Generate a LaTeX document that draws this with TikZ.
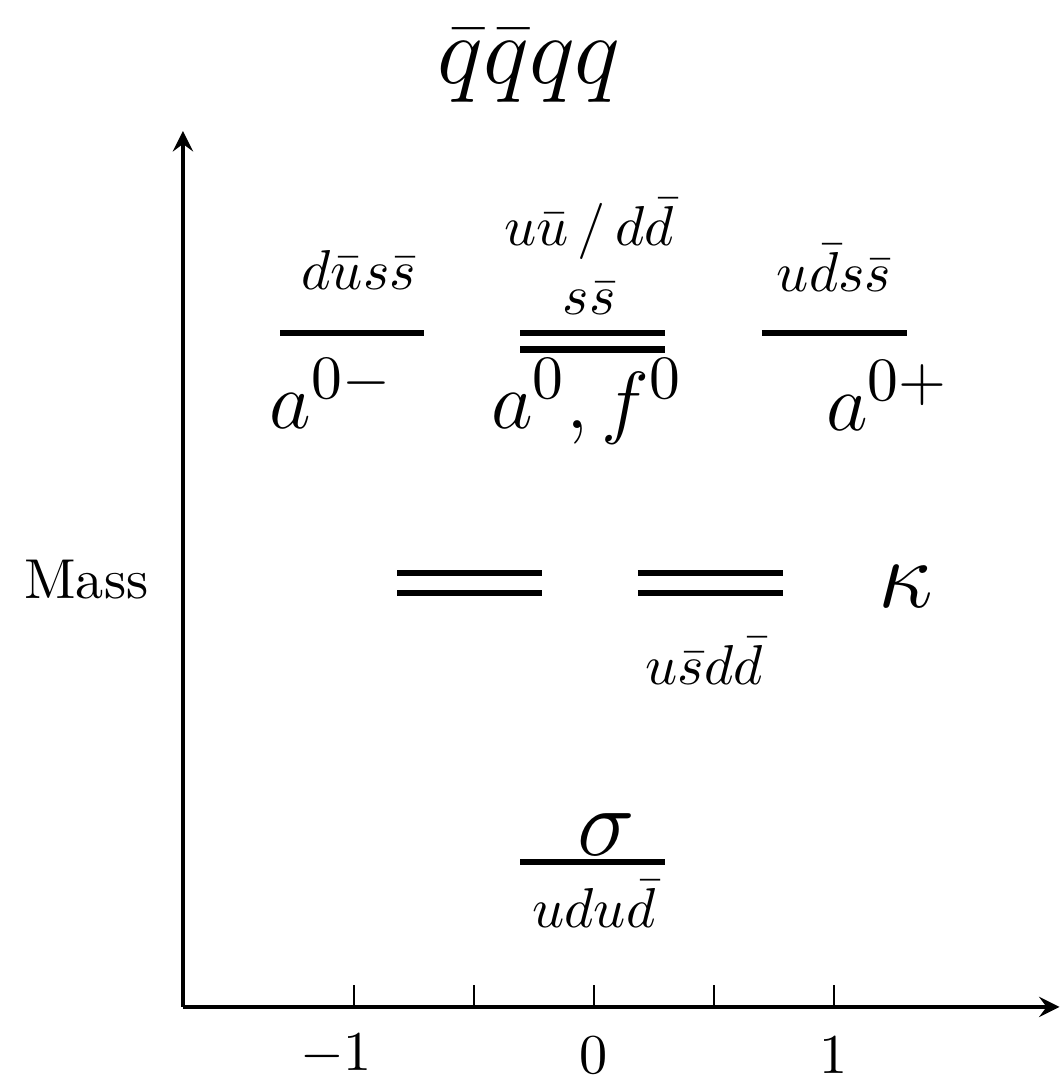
\documentclass[tikz,border=0pt]{standalone}
\usepackage{amsmath}
\begin{document}
\begin{tikzpicture}[>=stealth, x=1.5cm, y=1.5cm]
\tikzset{level/.style={line width=1.1pt},
  state/.style={anchor=base west, inner sep=0pt, font=\fontsize{15.5}{18}\selectfont}}
\useasboundingbox (-2.475,-0.296) rectangle (1.954,4.196);
\coordinate (O) at (-1.7125,0);
\coordinate (X) at (1.94,0);
\coordinate (Y) at (-1.7125,3.65);

\draw[->, semithick](O)--(X);
\draw[->, semithick](O)--(Y);
\foreach \x in {-1,-0.5,0,0.5,1} \draw (\x,0)--(\x,0.09);

\node[](T1) at (-1.075,-0.2){$-1$};
\node[](T2) at (0,-0.2){$0$};
\node[](T3) at (1,-0.2){$1$};
\node[](M) at (-2.115,1.78){Mass};
\node[](Q) at (-0.27,3.92){\LARGE $\bar{q}\bar{q}qq$};

% upper levels
\draw[level](-1.308,2.81)--(-0.708,2.81);
\draw[level](-0.308,2.81)--(0.296,2.81);
\draw[level](-0.308,2.74)--(0.296,2.74);
\draw[level](0.7,2.81)--(1.304,2.81);
\node[](A1) at (-0.98,3.07){$d\bar{u}s\bar{s}$};
\node[](A2) at (-0.02,3.24){$u\bar{u}\,/\,d\bar{d}$};
\node[](A3) at (-0.02,2.95){$s\bar{s}$};
\node[](A4) at (1.0,3.08){$u\bar{d}s\bar{s}$};
\node[state](B1) at (-1.355,2.412){$a^{0-}$};
\node[state](B2) at (-0.433,2.412){$a^0{,}\,f^0$};
\node[state](B3) at (0.9625,2.404){$a^{0+}$};

% kappa
\draw[level](-0.82,1.808)--(-0.217,1.808);
\draw[level](-0.82,1.725)--(-0.217,1.725);
\draw[level](0.183,1.808)--(0.7875,1.808);
\draw[level](0.183,1.725)--(0.7875,1.725);
\node[](K) at (1.30,1.75){\LARGE $\kappa$};
\node[](K1) at (0.46,1.44){$u\bar{s}d\bar{d}$};

% sigma
\draw[level](-0.308,0.604)--(0.296,0.604);
\node[](S) at (0.05,0.72){\LARGE $\sigma$};
\node[](S1) at (0,0.43){$udu\bar{d}$};
\end{tikzpicture}
\end{document}
